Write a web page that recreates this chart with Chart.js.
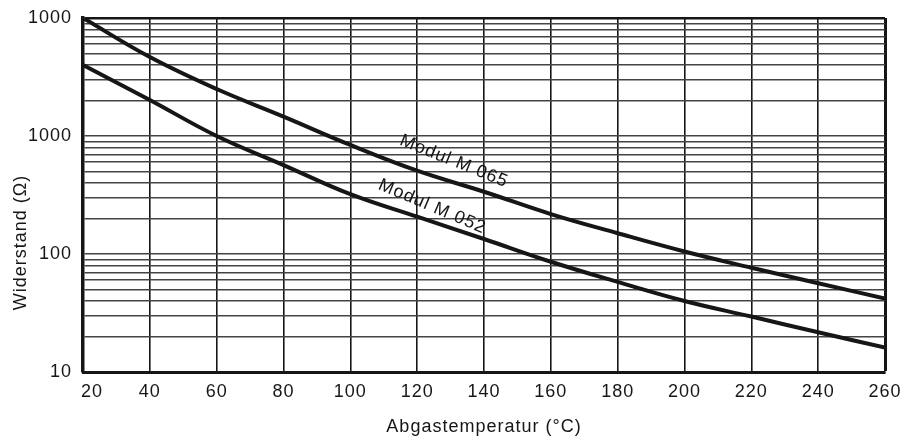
<!DOCTYPE html>
<html>
<head>
<meta charset="utf-8">
<script src="https://cdn.jsdelivr.net/npm/chart.js@4/dist/chart.umd.min.js"></script>
<style>
  html, body { margin: 0; padding: 0; background: #fff; }
  #wrap { width: 903px; height: 436px; }
</style>
</head>
<body>
<div id="wrap"><canvas id="c" width="903" height="436"></canvas></div>
<script>
// ---- data ----
const temperatures = [20, 40, 60, 80, 100, 120, 140, 160, 180, 200, 220, 240, 260];
const moduleM065 = [10000, 4670, 2500, 1460, 840, 508, 337, 218, 150, 105, 76.5, 56.5, 42];
const moduleM052 = [4000, 2020, 1000, 567, 321, 207, 134, 86, 58, 40, 29.5, 21.7, 16.1];
const seriesNames = ['Modul M 065', 'Modul M 052'];
const yTickValues = [10,20,30,40,50,60,70,80,90,100,200,300,400,500,600,700,800,900,
                     1000,2000,3000,4000,5000,6000,7000,8000,9000,10000];
const yTickLabels = {10: '10', 100: '100', 1000: '1000', 10000: '1000'};
const xTitle = 'Abgastemperatur (\u00B0C)';
const yTitle = 'Widerstand (\u03A9)';

// label placement (data coordinates) and angle
const curveLabels = [
  {text: seriesNames[0], x: 131, y: 610, angle: 22},
  {text: seriesNames[1], x: 124.5, y: 252, angle: 23}
];

const FONT = 'Liberation Sans, Arial, Helvetica, sans-serif';
const INK = '#161616';
const SPACING = '1px';

const spacingPlugin = {
  id: 'spacing',
  beforeUpdate(chart) { try { chart.ctx.letterSpacing = SPACING; } catch (e) {} },
  beforeDraw(chart) {
    try { chart.ctx.letterSpacing = SPACING; } catch (e) {}
    const ctx = chart.ctx;
    ctx.save();
    ctx.fillStyle = '#fff';
    ctx.fillRect(0, 0, chart.width, chart.height);
    ctx.restore();
  }
};

const textPlugin = {
  id: 'texts',
  afterDraw(chart) {
    const ctx = chart.ctx;
    const xs = chart.scales.x, ys = chart.scales.y;
    ctx.save();
    try { ctx.letterSpacing = SPACING; } catch (e) {}
    ctx.fillStyle = INK;
    ctx.font = '18px ' + FONT;
    ctx.textAlign = 'center';
    ctx.textBaseline = 'middle';
    curveLabels.forEach(l => {
      ctx.save();
      ctx.translate(xs.getPixelForValue(l.x), ys.getPixelForValue(l.y));
      ctx.rotate(l.angle * Math.PI / 180);
      ctx.fillText(l.text, 0, 0);
      ctx.restore();
    });
    // y axis title
    ctx.save();
    ctx.translate(21, ys.getPixelForValue(125));
    ctx.rotate(-Math.PI / 2);
    ctx.fillText(yTitle, 0, 0);
    ctx.restore();
    ctx.restore();
  }
};

new Chart(document.getElementById('c'), {
  type: 'line',
  data: {
    labels: temperatures,
    datasets: [
      {label: seriesNames[0], data: temperatures.map((t, i) => ({x: t, y: moduleM065[i]}))},
      {label: seriesNames[1], data: temperatures.map((t, i) => ({x: t, y: moduleM052[i]}))}
    ]
  },
  options: {
    responsive: false,
    animation: false,
    devicePixelRatio: 1,
    layout: {padding: {top: 18, right: 18, left: 0, bottom: 0}},
    elements: {
      line: {borderColor: INK, borderWidth: 4, tension: 0.4, fill: false},
      point: {radius: 0, hoverRadius: 0}
    },
    plugins: {legend: {display: false}, tooltip: {enabled: false}},
    scales: {
      x: {
        type: 'linear',
        min: 20, max: 260,
        afterFit(s) { s.height = 64; s.paddingLeft = 0; s.paddingRight = 0; },
        ticks: {
          stepSize: 20, padding: 9, color: INK, font: {family: FONT, size: 18}, maxRotation: 0,
          callback: v => (v === 20 ? '   20' : String(v))
        },
        grid: {
          drawTicks: false,
          color: INK,
          lineWidth: ctx => (ctx.tick && ctx.tick.value === 260) ? 3 : 1.6
        },
        border: {display: true, color: INK, width: 3},
        title: {display: true, text: xTitle, color: INK, font: {family: FONT, size: 18, lineHeight: 1.05}, padding: {top: 0, bottom: 0}}
      },
      y: {
        type: 'logarithmic',
        min: 10, max: 10000,
        afterFit(s) { s.width = 83; s.paddingTop = 0; s.paddingBottom = 0; },
        afterBuildTicks(s) { s.ticks = yTickValues.map(v => ({value: v, major: !!yTickLabels[v]})); },
        ticks: {
          autoSkip: false,
          padding: 11,
          color: INK,
          font: {family: FONT, size: 18},
          callback: v => (yTickLabels[v] !== undefined ? yTickLabels[v] : '')
        },
        grid: {
          drawTicks: false,
          color: ctx => (ctx.tick && ctx.tick.value === 10000) ? INK : '#444',
          lineWidth: ctx => (ctx.tick && ctx.tick.value === 10000) ? 2.5 : 1.4
        },
        border: {display: true, color: INK, width: 3.5}
      }
    }
  },
  plugins: [spacingPlugin, textPlugin]
});
</script>
</body>
</html>
